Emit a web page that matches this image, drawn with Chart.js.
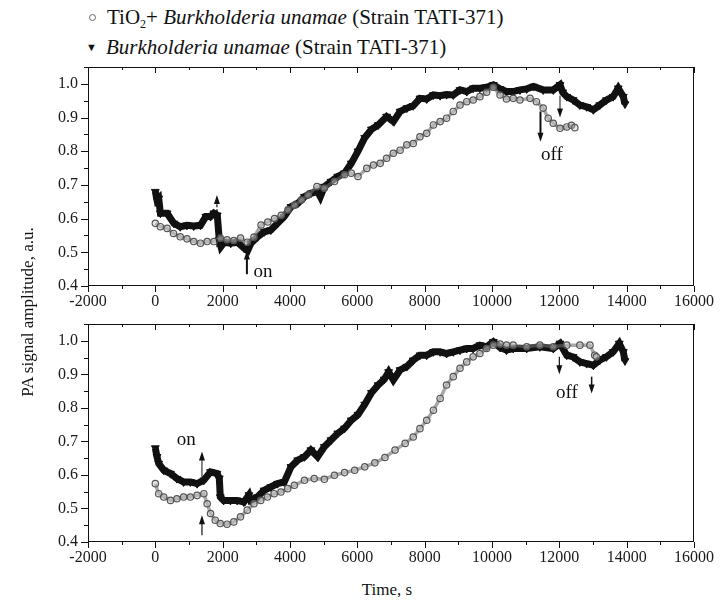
<!DOCTYPE html>
<html>
<head>
<meta charset="utf-8">
<script src="https://cdn.jsdelivr.net/npm/chart.js@4.4.1/dist/chart.umd.min.js"></script>
<style>
  body { margin: 0; background: #fff; width: 728px; height: 602px; position: relative; overflow: hidden;
         font-family: "Liberation Serif", "DejaVu Serif", serif; color: #111; }
  canvas { position: absolute; left: 0; }
  .leg { position: absolute; left: 86px; font-size: 21px; line-height: 24px; white-space: nowrap; }
  .leg sub { font-size: 12px; vertical-align: -4px; line-height: 0; }
  .circ { display: inline-block; width: 5px; height: 5px; border: 1px solid #666; border-radius: 50%;
          margin: 0 11px 3px 3px; vertical-align: middle; }
  .tri { display: inline-block; font-size: 11px; width: 20px; vertical-align: 3px; }
  #yTitle { position: absolute; left: -122px; top: 302px; width: 300px; height: 20px; line-height: 20px;
            text-align: center; font-size: 17px; transform: rotate(-90deg); }
  #xTitle { position: absolute; left: 287px; top: 580px; width: 200px; line-height: 20px;
            text-align: center; font-size: 17px; }
</style>
</head>
<body>
<div class="leg" style="top:5px"><span class="circ"></span>TiO<sub>2</sub>+ <i>Burkholderia unamae</i> (Strain TATI-371)</div>
<div class="leg" style="top:35px"><span class="tri">&#9660;</span><i>Burkholderia unamae</i> (Strain TATI-371)</div>
<canvas id="topChart" width="728" height="250" style="top:60px"></canvas>
<canvas id="bottomChart" width="728" height="250" style="top:316px"></canvas>
<div id="yTitle">PA signal amplitude, a.u.</div>
<div id="xTitle">Time, s</div>
<script>
// axis ticks
const xTicks = [-2000, 0, 2000, 4000, 6000, 8000, 10000, 12000, 14000, 16000];
const yTicks = [0.4, 0.5, 0.6, 0.7, 0.8, 0.9, 1.0];

// upper panel, TiO2 + bacteria (open circles)
const topTiO2Time = [0, 150, 350, 540, 740, 940, 1140, 1340, 1540, 1740, 1930, 2130, 2330, 2530, 2730, 2930,
  3140, 3340, 3540, 3740, 3940, 4140, 4340, 4540, 4800, 5020, 5320, 5620, 5820, 6020, 6280, 6480, 6680,
  6870, 7070, 7270, 7470, 7660, 7860, 8060, 8260, 8460, 8650, 8850, 9050, 9250, 9440, 9640, 9840, 10040,
  10240, 10430, 10630, 10830, 11130, 11320, 11520, 11670, 11820, 12020, 12220, 12360, 12460];
const topTiO2Amp = [0.586, 0.576, 0.571, 0.556, 0.546, 0.54, 0.532, 0.527, 0.532, 0.532, 0.542, 0.537, 0.535,
  0.542, 0.53, 0.545, 0.581, 0.59, 0.6, 0.61, 0.626, 0.64, 0.655, 0.67, 0.695, 0.69, 0.71, 0.73, 0.735, 0.725,
  0.749, 0.759, 0.764, 0.779, 0.794, 0.803, 0.819, 0.823, 0.843, 0.853, 0.878, 0.888, 0.898, 0.918, 0.937,
  0.947, 0.952, 0.962, 0.975, 0.99, 0.967, 0.955, 0.957, 0.952, 0.957, 0.947, 0.928, 0.898, 0.883, 0.868,
  0.872, 0.877, 0.87];

// upper panel, bacteria only (filled triangles)
const topBactTime = [0, 50, 100, 150, 350, 550, 740, 940, 1140, 1340, 1500, 1640, 1740, 1840, 1900, 1950, 2050,
  2240, 2440, 2640, 2740, 2840, 3040, 3240, 3430, 3630, 3830, 4030, 4230, 4430, 4620, 4820, 4900, 5020, 5220,
  5420, 5620, 5820, 6020, 6220, 6420, 6620, 6870, 7070, 7270, 7470, 7660, 7860, 8060, 8260, 8460, 8650, 8850,
  9050, 9250, 9440, 9640, 9840, 10040, 10240, 10430, 10630, 10830, 11030, 11230, 11520, 11820, 12020, 12100,
  12220, 12410, 12610, 12810, 13010, 13200, 13400, 13600, 13750, 13900, 13950];
const topBactAmp = [0.68, 0.655, 0.66, 0.616, 0.616, 0.586, 0.576, 0.58, 0.578, 0.58, 0.606, 0.606, 0.616, 0.61,
  0.537, 0.517, 0.53, 0.527, 0.53, 0.512, 0.505, 0.527, 0.546, 0.561, 0.566, 0.586, 0.606, 0.635, 0.645, 0.665,
  0.675, 0.68, 0.665, 0.695, 0.71, 0.725, 0.735, 0.764, 0.8, 0.84, 0.865, 0.878, 0.903, 0.888, 0.918, 0.928,
  0.935, 0.957, 0.955, 0.967, 0.965, 0.968, 0.967, 0.982, 0.977, 0.987, 0.987, 0.99, 0.997, 0.985, 0.977,
  0.977, 0.982, 0.985, 0.992, 0.982, 0.982, 0.997, 0.975, 0.962, 0.952, 0.937, 0.932, 0.923, 0.937, 0.952,
  0.962, 0.987, 0.962, 0.94];

// lower panel, TiO2 + bacteria (open circles)
const bottomTiO2Time = [0, 100, 250, 450, 640, 840, 1040, 1240, 1440, 1540, 1640, 1780, 1930, 2130, 2330, 2530,
  2730, 2930, 3130, 3330, 3530, 3730, 3930, 4130, 4430, 4720, 5020, 5320, 5620, 5920, 6220, 6520, 6820, 7120,
  7420, 7660, 7860, 8060, 8260, 8460, 8650, 8850, 9050, 9250, 9440, 9640, 9840, 10040, 10240, 10430, 10630,
  11030, 11420, 11820, 12220, 12610, 12910, 13050, 13100];
const bottomTiO2Amp = [0.574, 0.544, 0.534, 0.524, 0.529, 0.534, 0.534, 0.539, 0.544, 0.514, 0.485, 0.465, 0.455,
  0.453, 0.46, 0.475, 0.495, 0.514, 0.524, 0.534, 0.544, 0.549, 0.559, 0.569, 0.584, 0.589, 0.587, 0.599, 0.607,
  0.614, 0.624, 0.636, 0.652, 0.674, 0.694, 0.713, 0.738, 0.763, 0.793, 0.828, 0.868, 0.893, 0.918, 0.937,
  0.952, 0.962, 0.977, 0.987, 0.99, 0.987, 0.987, 0.982, 0.987, 0.982, 0.987, 0.987, 0.987, 0.957, 0.952];

// lower panel, bacteria only (filled triangles)
const bottomBactTime = [0, 50, 100, 250, 450, 640, 840, 1040, 1240, 1440, 1640, 1830, 1900, 1930, 2030, 2230,
  2430, 2630, 2780, 2830, 3030, 3230, 3430, 3630, 3830, 4030, 4230, 4430, 4620, 4820, 5020, 5220, 5420, 5620,
  5820, 6020, 6220, 6420, 6620, 6800, 6930, 7070, 7270, 7470, 7660, 7860, 8060, 8260, 8460, 8650, 8850, 9050,
  9250, 9440, 9640, 9840, 10040, 10240, 10430, 10630, 11030, 11420, 11820, 12020, 12220, 12410, 12610, 12810,
  13010, 13200, 13400, 13600, 13780, 13900, 13950];
const bottomBactAmp = [0.68, 0.654, 0.634, 0.614, 0.604, 0.589, 0.579, 0.579, 0.574, 0.584, 0.609, 0.604, 0.59,
  0.534, 0.524, 0.524, 0.524, 0.519, 0.54, 0.524, 0.534, 0.554, 0.564, 0.574, 0.579, 0.624, 0.644, 0.654, 0.674,
  0.654, 0.684, 0.704, 0.724, 0.739, 0.763, 0.78, 0.81, 0.845, 0.868, 0.885, 0.907, 0.883, 0.913, 0.923, 0.942,
  0.957, 0.957, 0.967, 0.967, 0.962, 0.967, 0.972, 0.977, 0.977, 0.987, 0.982, 0.997, 0.98, 0.972, 0.977,
  0.977, 0.982, 0.977, 0.992, 0.957, 0.952, 0.937, 0.932, 0.927, 0.942, 0.952, 0.967, 0.992, 0.967, 0.94];

// arrows: [time, from amplitude, to amplitude, line width, dashed]
const topArrows = [[1830, 0.515, 0.67, 1.2, true], [2720, 0.435, 0.505, 2, false],
  [11440, 0.918, 0.828, 2, false], [12020, 0.965, 0.9, 1, false]];
const bottomArrows = [[1385, 0.594, 0.67, 1, false], [1385, 0.42, 0.48, 1.2, false],
  [12000, 0.952, 0.9, 1.2, false], [12960, 0.893, 0.843, 1.5, false]];
// notes: [text, time, amplitude]
const topNotes = [["on", 3200, 0.442], ["off", 11780, 0.79]];
const bottomNotes = [["on", 920, 0.704], ["off", 12225, 0.843]];

const toPoints = (ts, ys) => ts.map((t, i) => ({ x: t, y: ys[i] }));
const serif = "'Liberation Serif', 'DejaVu Serif', serif";

const framePlugin = {
  id: "framePlugin",
  afterDatasetsDraw(chart, args, opts) {
    const { ctx, chartArea: { left, right, top, bottom }, scales: { x, y } } = chart;
    ctx.save();
    ctx.strokeStyle = "#111";
    ctx.fillStyle = "#111";
    ctx.lineWidth = 1;
    ctx.strokeRect(left + 0.5, top + 0.5, right - left - 1, bottom - top - 1);

    // x ticks: bottom outward, top inward
    ctx.beginPath();
    for (let v = -2000; v <= 16000; v += 1000) {
      const px = Math.round(x.getPixelForValue(v)) + 0.5;
      const len = v % 2000 === 0 ? 6 : 3;
      ctx.moveTo(px, bottom); ctx.lineTo(px, bottom + len);
      ctx.moveTo(px, top); ctx.lineTo(px, top + len);
    }
    // y ticks: left outward
    for (let k = 0; k <= 13; k++) {
      const v = 0.4 + k * 0.05;
      const py = Math.round(y.getPixelForValue(v)) + 0.5;
      const len = k % 2 === 0 ? 7 : 4;
      ctx.moveTo(left, py); ctx.lineTo(left - len, py);
    }
    ctx.stroke();

    // arrows
    opts.arrows.forEach(([t, a0, a1, w, dashed]) => {
      const px = x.getPixelForValue(t);
      const y0 = y.getPixelForValue(a0);
      const y1 = y.getPixelForValue(a1);
      const dir = Math.sign(y1 - y0);
      ctx.lineWidth = w;
      ctx.setLineDash(dashed ? [3, 2] : []);
      ctx.beginPath();
      ctx.moveTo(px, y0);
      ctx.lineTo(px, y1 - dir * 6);
      ctx.stroke();
      ctx.setLineDash([]);
      ctx.beginPath();
      ctx.moveTo(px, y1);
      ctx.lineTo(px - 3, y1 - dir * 9);
      ctx.lineTo(px + 3, y1 - dir * 9);
      ctx.closePath();
      ctx.fill();
    });

    // text notes
    ctx.font = "19px " + serif;
    ctx.textAlign = "center";
    ctx.textBaseline = "middle";
    opts.notes.forEach(([txt, t, a]) => {
      ctx.fillText(txt, x.getPixelForValue(t), y.getPixelForValue(a));
    });
    ctx.restore();
  },
};

function makePanel(canvasId, padTop, tio2T, tio2A, bactT, bactA, arrows, notes) {
  return new Chart(document.getElementById(canvasId), {
    type: "scatter",
    data: {
      datasets: [
        {
          label: "Burkholderia unamae (Strain TATI-371)",
          data: toPoints(bactT, bactA),
          showLine: true,
          borderColor: "#111",
          borderWidth: 7,
          pointStyle: "triangle",
          rotation: 180,
          pointRadius: 4.5,
          pointBackgroundColor: "#111",
          pointBorderColor: "#111",
          pointBorderWidth: 1,
          order: 1,
        },
        {
          label: "TiO2 + Burkholderia unamae (Strain TATI-371)",
          data: toPoints(tio2T, tio2A),
          showLine: true,
          borderColor: "rgba(110,110,110,0.6)",
          borderWidth: 3.5,
          pointStyle: "circle",
          pointRadius: 3.2,
          pointBackgroundColor: "rgba(200,200,200,0.4)",
          pointBorderColor: "#555",
          pointBorderWidth: 1.2,
          order: 0,
        },
      ],
    },
    options: {
      responsive: false,
      animation: false,
      layout: { padding: { top: padTop, right: 34, left: 0, bottom: 0 } },
      plugins: {
        legend: { display: false },
        tooltip: { enabled: false },
        framePlugin: { arrows, notes },
      },
      scales: {
        x: {
          type: "linear",
          min: -2000,
          max: 16000,
          grid: { display: false, drawTicks: false },
          border: { display: false },
          afterBuildTicks: (s) => { s.ticks = xTicks.map((v) => ({ value: v })); },
          afterFit: (s) => { s.height = 24; s.paddingLeft = 0; s.paddingRight = 0; },
          ticks: {
            autoSkip: false,
            maxRotation: 0,
            padding: 6,
            color: "#1a1a1a",
            font: { family: serif, size: 16 },
            callback: (v) => String(v),
          },
        },
        y: {
          min: 0.4,
          max: 1.05,
          grid: { display: false, drawTicks: false },
          border: { display: false },
          afterBuildTicks: (s) => { s.ticks = yTicks.map((v) => ({ value: v })); },
          afterFit: (s) => { s.width = 88; s.paddingTop = 0; s.paddingBottom = 0; },
          ticks: {
            padding: 10,
            color: "#1a1a1a",
            font: { family: serif, size: 16 },
            callback: (v) => Number(v).toFixed(1),
          },
        },
      },
    },
    plugins: [framePlugin],
  });
}

makePanel("topChart", 7, topTiO2Time, topTiO2Amp, topBactTime, topBactAmp, topArrows, topNotes);
makePanel("bottomChart", 8, bottomTiO2Time, bottomTiO2Amp, bottomBactTime, bottomBactAmp, bottomArrows, bottomNotes);
</script>
</body>
</html>
